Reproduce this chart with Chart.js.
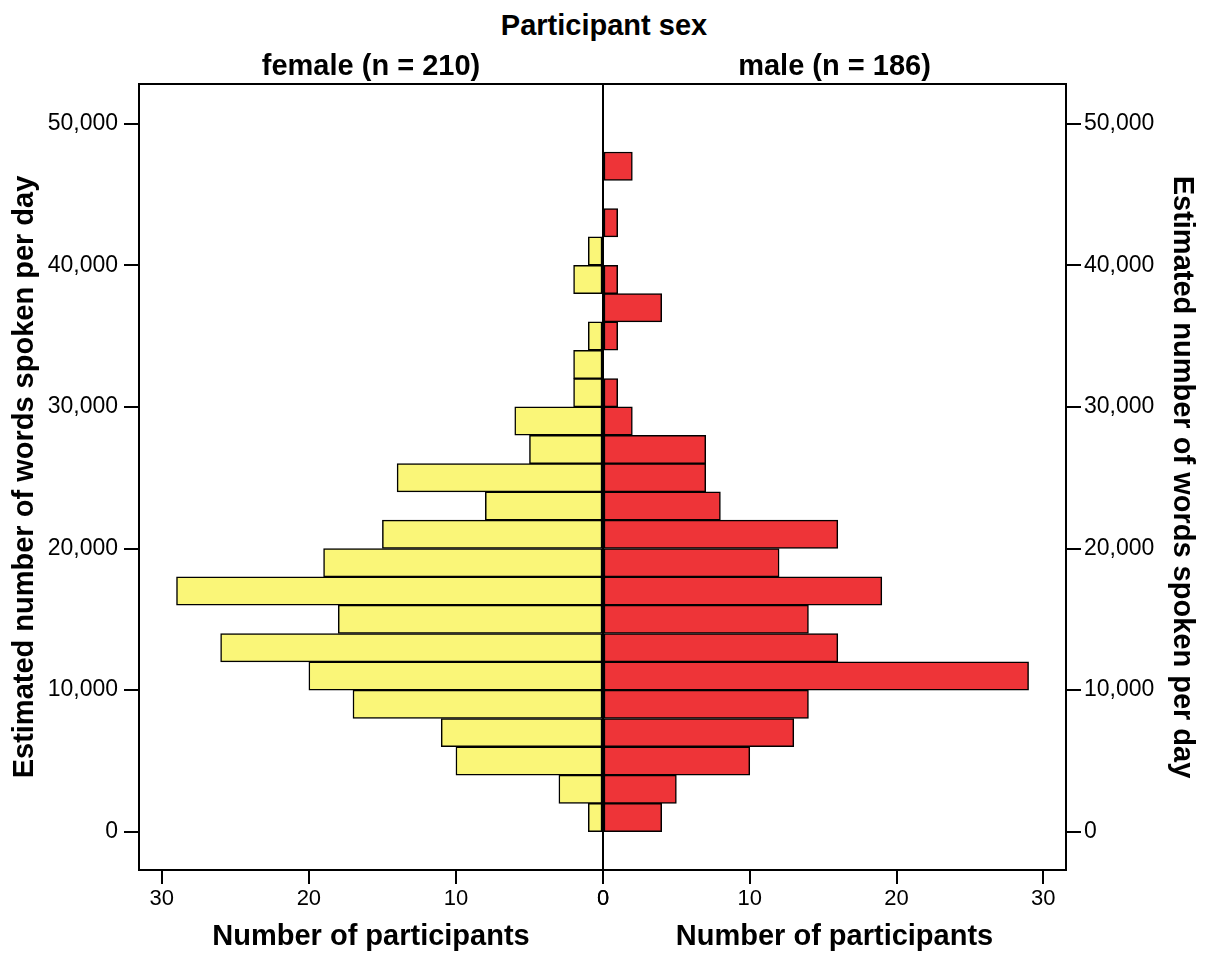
<!DOCTYPE html>
<html>
<head>
<meta charset="utf-8">
<script src="https://cdn.jsdelivr.net/npm/chart.js@4.4.1/dist/chart.umd.min.js"></script>
<style>
  body { margin: 0; background: #fff; }
  #wrap { position: relative; width: 1208px; height: 957px; }
  #heading {
    position: absolute; left: 0; top: 9px; width: 1208px;
    text-align: center; line-height: 29px;
    font: bold 29px "Liberation Sans", Arial, sans-serif; color: #000;
  }
  .panel { position: absolute; top: 0; }
</style>
</head>
<body>
<div id="wrap">
  <div id="heading">Participant sex</div>
  <div class="panel" style="left:0"><canvas id="femaleChart" width="640" height="957"></canvas></div>
  <div class="panel" style="left:568px"><canvas id="maleChart" width="640" height="957"></canvas></div>
</div>
<script>
// histogram bins (midpoint of each 2,000-word bin)
const binMids = [1000, 3000, 5000, 7000, 9000, 11000, 13000, 15000, 17000, 19000, 21000, 23000,
                 25000, 27000, 29000, 31000, 33000, 35000, 37000, 39000, 41000, 43000, 45000, 47000];
const femaleCounts = [1, 3, 10, 11, 17, 20, 26, 18, 29, 19, 15, 8, 14, 5, 6, 2, 2, 1, 0, 2, 1, 0, 0, 0];
const maleCounts   = [4, 5, 10, 13, 14, 29, 16, 14, 19, 12, 16, 8, 7, 7, 2, 1, 0, 1, 4, 1, 0, 1, 0, 2];
const wordTicks = [0, 10000, 20000, 30000, 40000, 50000];
const countTicks = [0, 10, 20, 30];
const panelTitles = ['female (n = 210)', 'male (n = 186)'];

Chart.defaults.font.family = '"Liberation Sans", Arial, sans-serif';
Chart.defaults.color = '#000';

// box around the plot area
const framePlugin = {
  id: 'frame',
  afterDatasetsDraw(chart) {
    const {ctx, chartArea: a} = chart;
    ctx.save();
    ctx.strokeStyle = '#000';
    ctx.lineWidth = 2;
    ctx.strokeRect(a.left, a.top, a.right - a.left, a.bottom - a.top);
    ctx.restore();
  }
};

function makePanel(id, counts, color, title, side) {
  const left = side === 'left';
  return new Chart(document.getElementById(id), {
    type: 'bar',
    data: {
      datasets: [{
        data: binMids.map((m, i) => ({x: counts[i], y: m})),
        backgroundColor: color,
        borderColor: '#000',
        borderWidth: 1.5,
        borderSkipped: false,
        barPercentage: 1,
        categoryPercentage: 1
      }]
    },
    options: {
      indexAxis: 'y',
      responsive: false,
      animation: false,
      devicePixelRatio: 1,
      layout: { padding: left ? {left: 0, right: 37, top: 0, bottom: 0} : {left: 35, right: 0, top: 0, bottom: 0} },
      plugins: { legend: {display: false}, tooltip: {enabled: false} },
      scales: {
        y: {
          type: 'linear', position: side, min: -2700, max: 52800, bounds: 'data', offset: false,
          afterBuildTicks: s => { s.ticks = wordTicks.map(v => ({value: v})); },
          ticks: { callback: v => v.toLocaleString('en-US'), font: {size: 23}, padding: left ? 6 : 3 },
          grid: { offset: false, drawOnChartArea: false, tickLength: 15, color: '#000', lineWidth: 2 },
          border: { display: false },
          title: {
            display: true, text: 'Estimated number of words spoken per day',
            font: {size: 29, weight: 'bold'}, padding: {top: left ? 8 : 9, bottom: 0}
          },
          afterFit: s => { s.width = left ? 139 : 142; s.paddingTop = 0; s.paddingBottom = 0; }
        },
        x: {
          type: 'linear', position: 'bottom', min: 0, max: 31.55, reverse: left, bounds: 'data',
          afterBuildTicks: s => { s.ticks = countTicks.map(v => ({value: v})); },
          ticks: { font: {size: 22}, padding: 2, maxRotation: 0 },
          grid: { drawOnChartArea: false, tickLength: 14, color: '#000', lineWidth: 2 },
          border: { display: false },
          title: {
            display: true, text: 'Number of participants',
            font: {size: 29, weight: 'bold'}, padding: {top: 0, bottom: 3}
          },
          afterFit: s => { s.height = 87; s.paddingLeft = 0; s.paddingRight = 0; }
        },
        xTop: {
          axis: 'x', type: 'linear', position: 'top', min: 0, max: 31.55,
          ticks: { display: false },
          grid: { display: false },
          border: { display: false },
          title: { display: true, text: title, font: {size: 29, weight: 'bold'}, padding: {top: 50, bottom: 0} },
          afterFit: s => { s.height = 84; s.paddingLeft = 0; s.paddingRight = 0; }
        }
      }
    },
    plugins: [framePlugin]
  });
}

makePanel('femaleChart', femaleCounts, '#FAF678', panelTitles[0], 'left');
makePanel('maleChart', maleCounts, '#EE3438', panelTitles[1], 'right');
</script>
</body>
</html>
